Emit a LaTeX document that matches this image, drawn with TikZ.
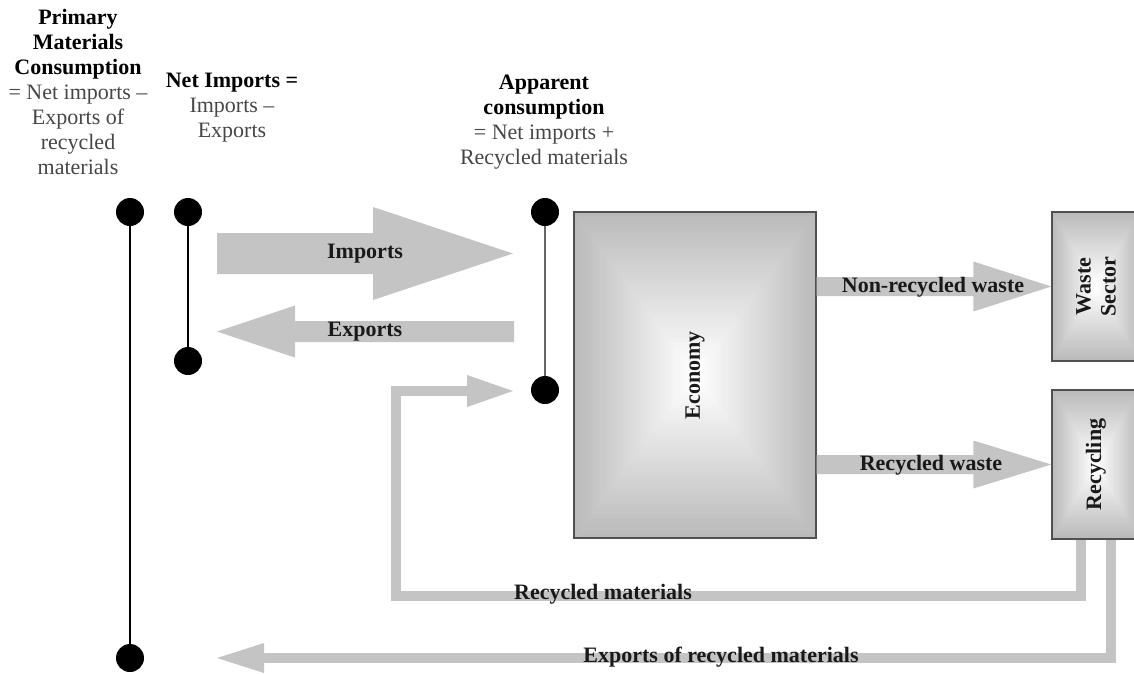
\documentclass[tikz,border=0pt]{standalone}
\usepackage{fontspec}
\setmainfont{Liberation Serif}
\usetikzlibrary{calc}
\definecolor{flow}{RGB}{196,196,196}
\definecolor{tgray}{RGB}{70,70,70}
\definecolor{edgegray}{RGB}{80,80,80}
\colorlet{boxgray}{black!27}
% horizontal fat arrow: from, to, shaft half width, head half width, head length
\newcommand\fatarrow[5]{%
  \fill[flow] let \p1=(#1), \p2=(#2), \n1={sign(\x2-\x1)} in
    (\x1,\y1+#3) -- (\x2-\n1*#5,\y1+#3) -- (\x2-\n1*#5,\y1+#4) -- (\x2,\y1)
    -- (\x2-\n1*#5,\y1-#4) -- (\x2-\n1*#5,\y1-#3) -- (\x1,\y1-#3) -- cycle;}
% rectangular gradient inside a box node: node name, width, height
\newcommand\rectshade[3]{%
  \foreach \i in {0,...,40}{%
    \pgfmathsetmacro\fr{1-\i/40*0.97}%
    \pgfmathsetmacro\cc{100*\i/40}%
    \fill[white!\cc!boxgray] ($(#1)+(-\fr*#2/2,-\fr*#3/2)$) rectangle ($(#1)+(\fr*#2/2,\fr*#3/2)$);}%
}
\begin{document}
\begin{tikzpicture}[x=1pt,y=-1pt,
  every node/.style={font=\fontsize{22}{25}\selectfont},
  dot/.style={circle, fill=black, minimum size=28pt, inner sep=0pt},
  box/.style={draw=edgegray, line width=1.3pt, inner sep=0pt},
  flowlabel/.style={font=\fontsize{22}{25}\selectfont\bfseries, text=black!90},
  bar/.style={draw=flow, line width=10pt}
]
\useasboundingbox (0,0) rectangle (1134,673);
\clip (0,0) rectangle (1134,673);

% header texts
\node[align=center] (pmc) at (78,92) {\textbf{Primary}\\\textbf{Materials}\\\textbf{Consumption}\\\textcolor{tgray}{= Net imports –}\\\textcolor{tgray}{Exports of}\\\textcolor{tgray}{recycled}\\\textcolor{tgray}{materials}};
\node[align=center] (nim) at (232,108) {\textbf{Net Imports =}\\\textcolor{tgray}{Imports –}\\\textcolor{tgray}{Exports}};
\node[align=center] (app) at (544,122) {\textbf{Apparent}\\\textbf{consumption}\\\textcolor{tgray}{= Net imports +}\\\textcolor{tgray}{Recycled materials}};

% dots and lines
\node[dot] (pmTop) at (130,212) {};
\node[dot] (pmBot) at (130,658) {};
\node[dot] (niTop) at (188,212) {};
\node[dot] (niBot) at (188,361) {};
\node[dot] (acTop) at (545,212) {};
\node[dot] (acBot) at (545,390) {};
\draw[line width=1.5pt] (pmTop) -- (pmBot);
\draw[line width=1.5pt] (niTop) -- (niBot);
\draw[line width=2pt, black!60] (acTop) -- (acBot);

% box centres
\coordinate (econC) at (695,375);
\coordinate (wasteC) at (1096,286.5);
\coordinate (recycC) at (1096,464.5);

% flows from recycling (drawn under the boxes)
\coordinate (rmStart) at (1081,539);
\coordinate (rmEnd) at (513,391);
\draw[bar] (rmStart) -- (1081,596) -| (396,391) -- (468,391);
\fill[flow] (467,375) -- (rmEnd) -- (467,407) -- cycle;
\coordinate (erStart) at (1111,539);
\coordinate (erEnd) at (217,658);
\draw[bar] (erStart) -- (1111,658) -- (263,658);
\fill[flow] (264,643) -- (erEnd) -- (264,673) -- cycle;

% boxes
\rectshade{econC}{242}{326}
\node[box, minimum width=242, minimum height=326] (econ) at (econC) {};
\node[rotate=90, flowlabel] (econtxt) at (econ) {Economy};
\rectshade{wasteC}{88}{149}
\node[box, minimum width=88, minimum height=149] (waste) at (wasteC) {};
\node[rotate=90, flowlabel, align=center] (wastetxt) at (waste) {Waste\\Sector};
\rectshade{recycC}{88}{149}
\node[box, minimum width=88, minimum height=149] (recyc) at (recycC) {};
\node[rotate=90, flowlabel] (recyctxt) at (recyc) {Recycling};

% fat arrows
\coordinate (impS) at (217,253.5);
\coordinate (impE) at (513,253.5);
\fatarrow{impS}{impE}{20.5pt}{46.5pt}{140pt}
\coordinate (expS) at (514,331.5);
\coordinate (expE) at (217,331.5);
\fatarrow{expS}{expE}{10.5pt}{26pt}{78pt}
\coordinate (nrS) at (econ.east |- waste.west);
\fatarrow{nrS}{waste.west}{9.5pt}{25pt}{78pt}
\coordinate (rwS) at (econ.east |- recyc.west);
\fatarrow{rwS}{recyc.west}{9.5pt}{24pt}{78pt}

% flow labels
\node[flowlabel] (impL) at (365,254) {Imports};
\node[flowlabel] (expL) at (365,332) {Exports};
\node[flowlabel] (nrL) at (933,287) {Non-recycled waste};
\node[flowlabel] (rwL) at (931,465) {Recycled waste};
\node[flowlabel] (rmL) at (603,594) {Recycled materials};
\node[flowlabel] (erL) at (721,657) {Exports of recycled materials};
\end{tikzpicture}
\end{document}
